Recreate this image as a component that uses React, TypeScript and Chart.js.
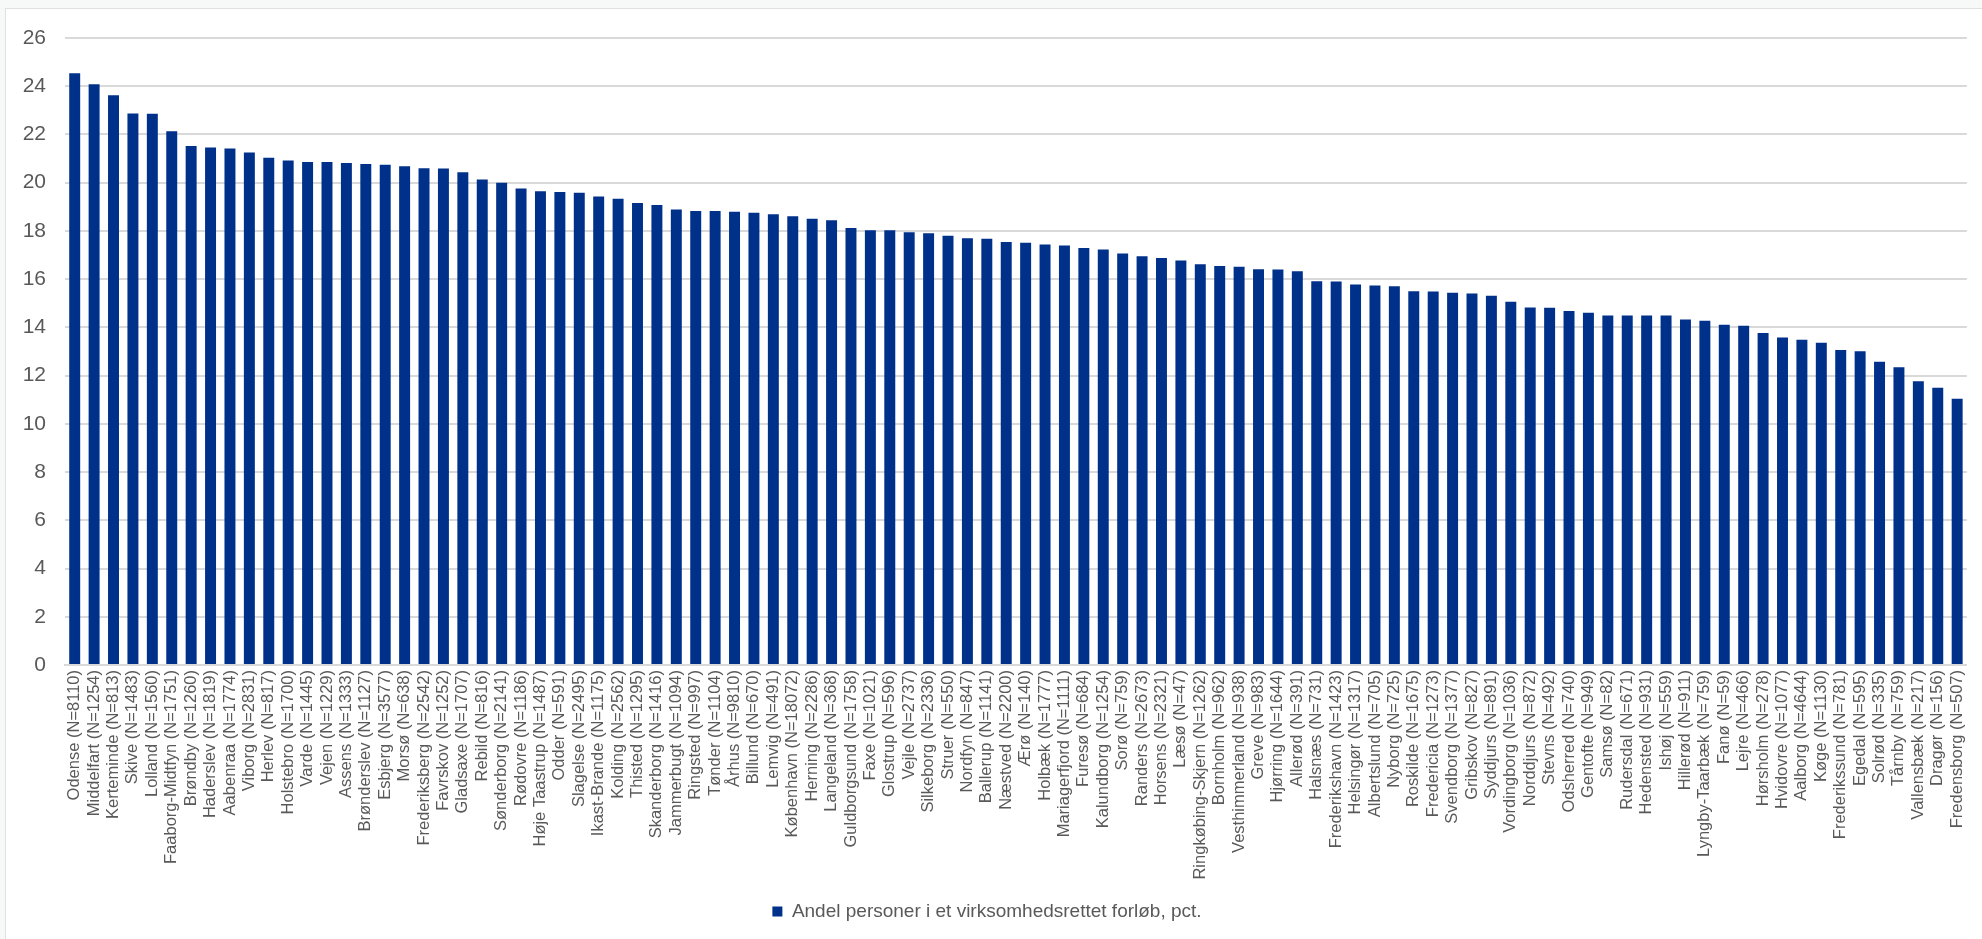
import React, { useEffect, useRef } from "react";
import { Chart, registerables } from "chart.js";

Chart.register(...registerables);

const municipalities: string[] = [
  "Odense (N=8110)", "Middelfart (N=1254)", "Kerteminde (N=813)", "Skive (N=1483)", "Lolland (N=1560)",
  "Faaborg-Midtfyn (N=1751)", "Brøndby (N=1260)", "Haderslev (N=1819)", "Aabenraa (N=1774)", "Viborg (N=2831)",
  "Herlev (N=817)", "Holstebro (N=1700)", "Varde (N=1445)", "Vejen (N=1229)", "Assens (N=1333)",
  "Brønderslev (N=1127)", "Esbjerg (N=3577)", "Morsø (N=638)", "Frederiksberg (N=2542)", "Favrskov (N=1252)",
  "Gladsaxe (N=1707)", "Rebild (N=816)", "Sønderborg (N=2141)", "Rødovre (N=1186)", "Høje Taastrup (N=1487)",
  "Odder (N=591)", "Slagelse (N=2495)", "Ikast-Brande (N=1175)", "Kolding (N=2562)", "Thisted (N=1295)",
  "Skanderborg (N=1416)", "Jammerbugt (N=1094)", "Ringsted (N=997)", "Tønder (N=1104)", "Århus (N=9810)",
  "Billund (N=670)", "Lemvig (N=491)", "København (N=18072)", "Herning (N=2286)", "Langeland (N=368)",
  "Guldborgsund (N=1758)", "Faxe (N=1021)", "Glostrup (N=596)", "Vejle (N=2737)", "Silkeborg (N=2336)",
  "Struer (N=550)", "Nordfyn (N=847)", "Ballerup (N=1141)", "Næstved (N=2200)", "Ærø (N=140)",
  "Holbæk (N=1777)", "Mariagerfjord (N=1111)", "Furesø (N=684)", "Kalundborg (N=1254)", "Sorø (N=759)",
  "Randers (N=2673)", "Horsens (N=2321)", "Læsø (N=47)", "Ringkøbing-Skjern (N=1262)", "Bornholm (N=962)",
  "Vesthimmerland (N=938)", "Greve (N=983)", "Hjørring (N=1644)", "Allerød (N=391)", "Halsnæs (N=731)",
  "Frederikshavn (N=1423)", "Helsingør (N=1317)", "Albertslund (N=705)", "Nyborg (N=725)", "Roskilde (N=1675)",
  "Fredericia (N=1273)", "Svendborg (N=1377)", "Gribskov (N=827)", "Syddjurs (N=891)", "Vordingborg (N=1036)",
  "Norddjurs (N=872)", "Stevns (N=492)", "Odsherred (N=740)", "Gentofte (N=949)", "Samsø (N=82)",
  "Rudersdal (N=671)", "Hedensted (N=931)", "Ishøj (N=559)", "Hillerød (N=911)", "Lyngby-Taarbæk (N=759)",
  "Fanø (N=59)", "Lejre (N=466)", "Hørsholm (N=278)", "Hvidovre (N=1077)", "Aalborg (N=4644)",
  "Køge (N=1130)", "Frederikssund (N=781)", "Egedal (N=595)", "Solrød (N=335)", "Tårnby (N=759)",
  "Vallensbæk (N=217)", "Dragør (N=156)", "Fredensborg (N=507)",
];

const shareValues: number[] = [
  24.54, 24.08, 23.63, 22.87, 22.86, 22.13, 21.52, 21.46, 21.42, 21.25,
  21.03, 20.92, 20.86, 20.86, 20.82, 20.78, 20.74, 20.68, 20.6, 20.59,
  20.43, 20.13, 20.0, 19.76, 19.64, 19.61, 19.58, 19.43, 19.33, 19.16,
  19.07, 18.89, 18.83, 18.83, 18.79, 18.75, 18.69, 18.61, 18.5, 18.44,
  18.12, 18.03, 18.03, 17.95, 17.9, 17.8, 17.7, 17.68, 17.54, 17.51,
  17.44, 17.4, 17.29, 17.23, 17.06, 16.95, 16.88, 16.77, 16.62, 16.55,
  16.51, 16.41, 16.4, 16.33, 15.91, 15.9, 15.78, 15.74, 15.71, 15.5,
  15.49, 15.44, 15.41, 15.31, 15.06, 14.82, 14.81, 14.68, 14.61, 14.49,
  14.49, 14.49, 14.49, 14.33, 14.28, 14.11, 14.07, 13.77, 13.58, 13.49,
  13.36, 13.06, 13.01, 12.57, 12.35, 11.77, 11.5, 11.04,
];

const seriesLabel = "Andel personer i et virksomhedsrettet forløb, pct.";
const yMin = 0;
const yMax = 26;
const yStep = 2;

const FONT = "'Liberation Sans', Arial, sans-serif";
const TEXT = "#595959";
const GRID = "#d9d9d9";
const BAR = "#00318A";

export default function App() {
  const canvasRef = useRef<HTMLCanvasElement | null>(null);

  useEffect(() => {
    document.body.style.margin = "0";
    document.body.style.overflow = "hidden";
    document.documentElement.style.overflow = "hidden";
    const canvas = canvasRef.current;
    if (!canvas) return;
    const chart = new Chart(canvas, {
      type: "bar",
      data: {
        labels: municipalities,
        datasets: [
          {
            label: seriesLabel,
            data: shareValues,
            backgroundColor: BAR,
            borderWidth: 0,
            barPercentage: 0.565,
            categoryPercentage: 1,
          },
        ],
      },
      options: {
        responsive: false,
        maintainAspectRatio: false,
        animation: false,
        layout: { padding: { left: 0, right: 8, top: 38, bottom: 8 } },
        plugins: {
          tooltip: { enabled: false },
          legend: {
            position: "bottom",
            labels: {
              color: TEXT,
              font: { family: FONT, size: 19 },
              boxWidth: 10,
              boxHeight: 10,
              padding: 11,
            },
          },
        },
        scales: {
          x: {
            grid: { display: false, drawTicks: false },
            border: { display: true, color: GRID, width: 2 },
            ticks: {
              autoSkip: false,
              minRotation: 90,
              maxRotation: 90,
              padding: 5,
              color: TEXT,
              font: { family: FONT, size: 16.5 },
            },
            afterFit: (scale: any) => {
              scale.height = 226;
            },
          },
          y: {
            min: yMin,
            max: yMax,
            grid: { color: GRID, lineWidth: 2, drawTicks: false },
            border: { display: false },
            ticks: {
              stepSize: yStep,
              padding: 19,
              color: TEXT,
              font: { family: FONT, size: 21 },
            },
            afterFit: (scale: any) => {
              scale.width = 65;
            },
          },
        },
      },
    });
    return () => chart.destroy();
  }, []);

  return (
    <div style={{ position: "fixed", left: 0, top: 0, width: 1982, height: 939, background: "#f7f8f8", overflow: "hidden" }}>
      <div
        style={{
          position: "absolute",
          left: 5,
          top: 8,
          width: 1990,
          height: 940,
          background: "#ffffff",
          borderTop: "1px solid #e0e0e0",
          borderLeft: "1px solid #e0e0e0",
        }}
      />
      <canvas ref={canvasRef} width={1982} height={939} style={{ position: "absolute", left: 0, top: 0, width: 1982, height: 939 }} />
    </div>
  );
}
